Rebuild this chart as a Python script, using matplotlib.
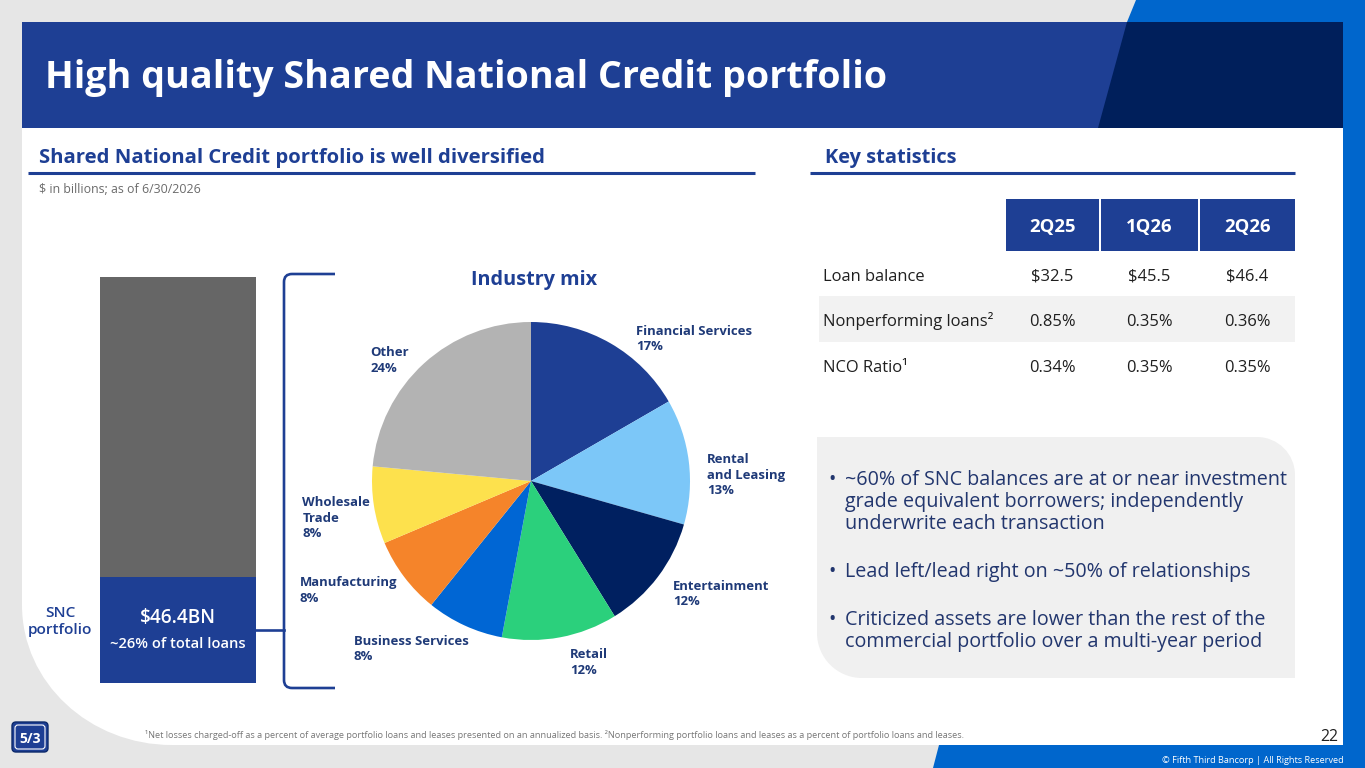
import matplotlib
matplotlib.use("Agg")
import matplotlib.pyplot as plt
from matplotlib.patches import Rectangle, Polygon, PathPatch, FancyBboxPatch
from matplotlib.path import Path

# ---------------- data ----------------
industry_labels = ["Financial Services", "Rental\nand Leasing", "Entertainment", "Retail",
                   "Business Services", "Manufacturing", "Wholesale\nTrade", "Other"]
industry_share = [17, 13, 12, 12, 8, 8, 8, 24]
snc_balance_bn = 46.4
snc_share_of_loans = 26
periods = ["2Q25", "1Q26", "2Q26"]
stat_rows = ["Loan balance", "Nonperforming loans²", "NCO Ratio¹"]
loan_balance = [32.5, 45.5, 46.4]
npl_ratio = [0.85, 0.35, 0.36]
nco_ratio = [0.34, 0.35, 0.35]
bullet_points = [
    "~60% of SNC balances are at or near investment\ngrade equivalent borrowers; independently\nunderwrite each transaction",
    "Lead left/lead right on ~50% of relationships",
    "Criticized assets are lower than the rest of the\ncommercial portfolio over a multi-year period",
]
title = "High quality Shared National Credit portfolio"
left_header = "Shared National Credit portfolio is well diversified"
right_header = "Key statistics"
units_note = "$ in billions; as of 6/30/2026"
footnote = ("¹Net losses charged-off as a percent of average portfolio loans and leases presented on an "
            "annualized basis. ²Nonperforming portfolio loans and leases as a percent of portfolio loans and leases.")

# ---------------- style ----------------
W, H = 1365, 768
NAVY = "#1e3f94"
DARK = "#001f5b"
BRIGHT = "#0066cc"
BG = "#e6e6e6"
LABEL = "#1f3a78"
TEXT = "#1f1f1f"
pie_colors = ["#1e3f94", "#7cc7f8", "#002060", "#2bd07c", "#0066d4", "#f5842a", "#fde14d", "#b3b3b3"]
FONT = ["Open Sans", "DejaVu Sans"]

fig = plt.figure(figsize=(W / 100, H / 100), dpi=100)
fig.patch.set_facecolor(BG)
bg = fig.add_axes([0, 0, 1, 1], zorder=0)
ov = fig.add_axes([0, 0, 1, 1], zorder=10)
for a in (bg, ov):
    a.set_xlim(0, W)
    a.set_ylim(H, 0)
    a.axis("off")
ov.patch.set_alpha(0)
renderer = fig.canvas.get_renderer()


def txt(x, y, s, size=10, width=None, color=TEXT, weight="normal", ha="left", va="baseline", z=6):
    t = ov.text(x, y, s, fontsize=size, color=color, fontweight=weight, ha=ha, va=va,
                family=FONT, zorder=z)
    if width:
        w = t.get_window_extent(renderer).width
        t.set_fontsize(size * width / w)
    return t


def fit_size(s, size, width, weight="normal"):
    t = txt(0, -100, s, size=size, width=width, weight=weight)
    fs = t.get_fontsize()
    t.remove()
    return fs


def fig_rect(x0, y0, x1, y1):
    return [x0 / W, (H - y1) / H, (x1 - x0) / W, (y1 - y0) / H]


# ---------------- frame ----------------
bg.add_patch(Polygon([(1136, 0), (1365, 0), (1365, 768), (933, 768), (939, 745),
                      (1343, 745), (1343, 22), (1127, 22)], closed=True, fc=BRIGHT, ec="none", zorder=1))
rx, ry, k = 150, 140, 0.5523
verts = [(22, 22), (1343, 22), (1343, 745), (22 + rx, 745),
         (22 + rx - rx * k, 745), (22, 745 - ry + ry * k), (22, 745 - ry), (22, 22)]
codes = [Path.MOVETO, Path.LINETO, Path.LINETO, Path.LINETO,
         Path.CURVE4, Path.CURVE4, Path.CURVE4, Path.CLOSEPOLY]
bg.add_patch(PathPatch(Path(verts, codes), fc="white", ec="none", zorder=1))
bg.add_patch(Rectangle((22, 22), 1321, 106, fc=NAVY, ec="none", zorder=2))
bg.add_patch(Polygon([(1127, 22), (1343, 22), (1343, 128), (1098, 128)], closed=True,
                     fc=DARK, ec="none", zorder=3))

txt(45, 88, title, size=26, width=843, color="white", weight="bold")
txt(39, 163, left_header, size=14, width=508, color=NAVY, weight="bold")
txt(825, 163, right_header, size=14, width=132, color=NAVY, weight="bold")
bg.plot([28, 755], [172.5, 172.5], color=NAVY, lw=2.2, solid_capstyle="butt", zorder=3)
bg.plot([810, 1295], [173, 173], color=NAVY, lw=2.2, solid_capstyle="butt", zorder=3)
txt(39, 192.7, units_note, size=8, width=163, color="#6b6b6b")

# ---------------- stacked bar ----------------
bax = fig.add_axes(fig_rect(100, 277, 256, 683), zorder=2)
bax.bar(0, snc_share_of_loans, width=1, color=NAVY, linewidth=0)
bax.bar(0, 100 - snc_share_of_loans, bottom=snc_share_of_loans, width=1, color="#666666", linewidth=0)
bax.set_xlim(-0.5, 0.5)
bax.set_ylim(0, 100)
bax.axis("off")
txt(178, 623, f"${snc_balance_bn}BN", size=12, width=76, color="white", ha="center", weight="semibold")
txt(178, 648, f"~{snc_share_of_loans}% of total loans", size=10, width=136, color="white", ha="center",
    weight="semibold")
snc_size = fit_size("portfolio", 10, 65, weight="semibold")
txt(60, 617, "SNC", size=snc_size, color=NAVY, ha="center", weight="semibold")
txt(60, 634, "portfolio", size=snc_size, color=NAVY, ha="center", weight="semibold")

# bracket
bv = [(335, 274), (292, 274), (284, 274), (284, 282), (284, 680), (284, 688), (292, 688), (335, 688)]
bc = [Path.MOVETO, Path.LINETO, Path.CURVE3, Path.CURVE3, Path.LINETO, Path.CURVE3, Path.CURVE3, Path.LINETO]
ov.add_patch(PathPatch(Path(bv, bc), fc="none", ec=NAVY, lw=1.9, zorder=4))
ov.plot([256, 284], [630, 630], color=NAVY, lw=1.9, zorder=4)

# ---------------- pie ----------------
cx, cy, R = 531, 481, 159
pax = fig.add_axes(fig_rect(cx - R, cy - R, cx + R, cy + R), zorder=2)
pax.pie(industry_share, colors=pie_colors, startangle=90, counterclock=False, radius=1,
        wedgeprops=dict(linewidth=0))
pax.set_xlim(-1, 1)
pax.set_ylim(-1, 1)
pax.set_aspect("equal")
pax.axis("off")
txt(534, 285, "Industry mix", size=13, width=126, color=NAVY, weight="bold", ha="center")

pie_label_pos = [(636, 335), (707, 463), (673, 589.6), (570, 658.5),
                 (353.6, 645), (300, 586), (302.4, 506), (370.7, 356.5)]
lab_size = fit_size("Financial Services", 9, 116, weight="bold")
for (lx, ly), name, pct in zip(pie_label_pos, industry_labels, industry_share):
    lines = name.split("\n") + [f"{pct}%"]
    for i, line in enumerate(lines):
        txt(lx, ly + i * 15.5, line, size=lab_size, color=LABEL, weight="bold")

# ---------------- table ----------------
col_x = [(1006, 1099), (1101, 1198), (1200, 1295)]
hdr_size = fit_size("2Q25", 10, 46, weight="bold")
for (x0, x1), p in zip(col_x, periods):
    bg.add_patch(Rectangle((x0, 199), x1 - x0, 52, fc=NAVY, ec="none", zorder=3))
    txt((x0 + x1) / 2, 232, p, size=hdr_size, color="white", weight="bold", ha="center")
bg.add_patch(Rectangle((819, 296), 476, 46, fc="#f2f2f2", ec="none", zorder=3))
row_size = fit_size("Loan balance", 11, 102)
row_vals = [[f"${v:.1f}" for v in loan_balance],
            [f"{v:.2f}%" for v in npl_ratio],
            [f"{v:.2f}%" for v in nco_ratio]]
row_base = [280.7, 326, 371.7]
for yb, lab, vals in zip(row_base, stat_rows, row_vals):
    txt(822.7, yb, lab, size=row_size)
    for (x0, x1), v in zip(col_x, vals):
        txt((x0 + x1) / 2, yb, v, size=row_size, ha="center")

# ---------------- bullet box ----------------
x0, y0, x1, y1 = 817, 437, 1295, 678
r1, r2 = 38, 45
bverts = [(x0, y0), (x1 - r1, y0), (x1 - r1 + r1 * k, y0), (x1, y0 + r1 - r1 * k), (x1, y0 + r1),
          (x1, y1), (x0 + r2, y1), (x0 + r2 - r2 * k, y1), (x0, y1 - r2 + r2 * k), (x0, y1 - r2), (x0, y0)]
bcodes = [Path.MOVETO, Path.LINETO, Path.CURVE4, Path.CURVE4, Path.CURVE4,
          Path.LINETO, Path.LINETO, Path.CURVE4, Path.CURVE4, Path.CURVE4, Path.CLOSEPOLY]
bg.add_patch(PathPatch(Path(bverts, bcodes), fc="#f0f0f0", ec="none", zorder=3))
bul_size = fit_size(bullet_points[0].split("\n")[0], 13, 440)
para_base = [485, 577, 625]
for yb, para in zip(para_base, bullet_points):
    txt(828, yb, "•", size=bul_size, color="#22366e")
    for i, line in enumerate(para.split("\n")):
        txt(845, yb + i * 22, line, size=bul_size, color="#22366e")

# ---------------- footer ----------------
txt(145, 738, footnote, size=5.5, width=815, color="#777777")
txt(1338, 741, "22", size=10, width=18, color=TEXT, ha="right")
txt(1344, 763, "© Fifth Third Bancorp | All Rights Reserved", size=6.5, width=181, color="white", ha="right")

# logo
bg.add_patch(FancyBboxPatch((12, 722), 36, 30, boxstyle="round,pad=0,rounding_size=4",
                            fc=NAVY, ec="#0d2a6b", lw=1, zorder=4))
bg.add_patch(FancyBboxPatch((15, 725), 30, 24, boxstyle="round,pad=0,rounding_size=3",
                            fc=NAVY, ec="white", lw=0.8, zorder=5))
txt(30, 743, "5/3", size=10, color="white", weight="bold", ha="center")

fig.savefig("out.png", dpi=100, facecolor=BG)
